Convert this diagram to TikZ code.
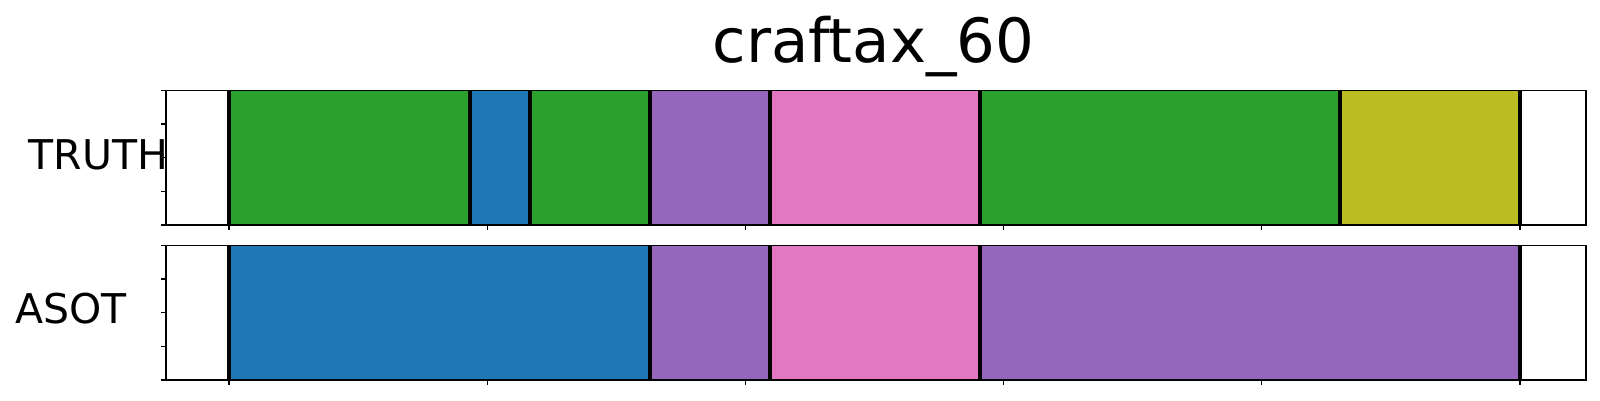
\documentclass[tikz,border=0pt]{standalone}
\usepackage{fontspec}
\setmainfont{DejaVu Sans}
\definecolor{tabblue}{HTML}{1F77B4}
\definecolor{tabgreen}{HTML}{2CA02C}
\definecolor{tabpurple}{HTML}{9467BD}
\definecolor{tabpink}{HTML}{E377C2}
\definecolor{tabolive}{HTML}{BCBD22}
\tikzset{
  % For the frame round each panel.
  panel frame/.style={
    draw=black,
    line width=1.6pt},
%
  % For coloured segments.
  segment/.style={
    fill=#1,
    draw=#1!85!black,
    line width=0.6pt},
%
  % For the black lines between segments.
  boundary/.style={
    draw=black,
    line width=3.6pt},
%
  % For axis ticks.
  tick line/.style={
    line width=1.1pt},
%
  % For the row names.
  row label/.style={
    font=\fontsize{41}{41}\selectfont,
    inner sep=0pt,
    anchor=base west},
%
  % For the title.
  plot title/.style={
    font=\fontsize{61}{61}\selectfont,
    inner sep=0pt,
    anchor=base},
}
\begin{document}
\begin{tikzpicture}[x=1pt,y=-1pt]
  \useasboundingbox (0,0) rectangle (1600,400);

  \node[plot title] (title) at (873.4,62.3) {craftax\_60};
  \node[row label] (truth) at (28.5,169) {TRUTH};
  \node[row label] (asot) at (15.2,323.3) {ASOT};

  % TRUTH row
  \foreach \a/\b/\c in {229/470/tabgreen, 470/530/tabblue, 530/650/tabgreen,
                        650/770/tabpurple, 770/980/tabpink, 980/1340/tabgreen,
                        1340/1520/tabolive}
    \draw[segment=\c] (\a,90.3) rectangle (\b,225);
  \foreach \x in {229,470,530,650,770,980,1340,1520}
    \draw[boundary] (\x,90.3) -- (\x,225);

  % ASOT row
  \foreach \a/\b/\c in {229/650/tabblue, 650/770/tabpurple, 770/980/tabpink,
                        980/1520/tabpurple}
    \draw[segment=\c] (\a,245.3) rectangle (\b,380);
  \foreach \x in {229,650,770,980,1520}
    \draw[boundary] (\x,245.3) -- (\x,380);

  % frames and ticks
  \foreach \top/\bot in {90.3/225, 245.3/380} {
    \draw[panel frame] (165.7,\top) rectangle (1585.7,\bot);
    \foreach \i in {0,...,4}
      \draw[tick line] (165.7,{\top+(\bot-\top)*\i/4}) -- ++(-5,0);
    \foreach \i in {0,...,5}
      \draw[tick line] ({229+258.2*\i},\bot) -- ++(0,5);
  }
\end{tikzpicture}
\end{document}
